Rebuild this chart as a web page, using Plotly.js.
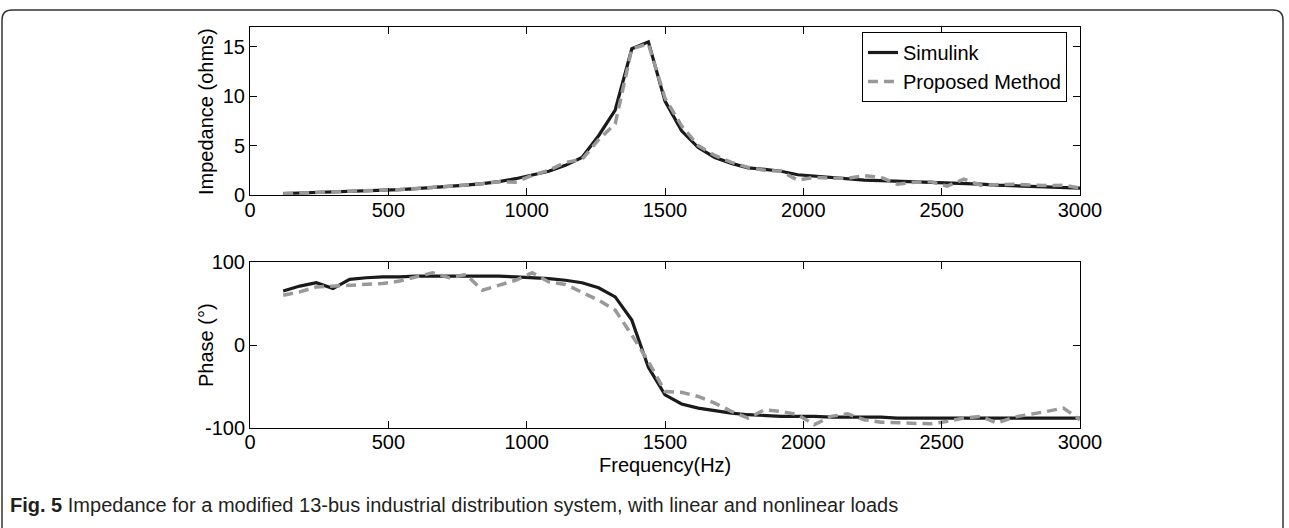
<!DOCTYPE html>
<html>
<head>
<meta charset="utf-8">
<script src="https://cdn.plot.ly/plotly-3.0.1.min.js"></script>
<style>html,body{margin:0;padding:0;background:#fff;}#chart{width:1289px;height:528px;}</style>
</head>
<body>
<div id="chart"></div>
<script>
// Frequencies (Hz), 60 Hz steps
const freq = [120,180,240,300,360,420,480,540,600,660,720,780,840,900,960,1020,1080,1140,1200,1260,1320,1380,1440,1500,1560,1620,1680,1740,1800,1860,1920,1980,2040,2100,2160,2220,2280,2340,2400,2460,2520,2580,2640,2700,2760,2820,2880,2940,3000];

// Impedance magnitude (ohms)
const zSimulink = [0.15,0.2,0.25,0.3,0.35,0.4,0.5,0.55,0.65,0.75,0.85,1.0,1.15,1.35,1.65,2.0,2.4,3.0,3.8,6.0,8.6,14.8,15.5,9.5,6.5,4.8,3.8,3.2,2.75,2.6,2.4,2.05,1.9,1.75,1.65,1.5,1.45,1.4,1.3,1.25,1.2,1.15,1.1,1.0,0.95,0.9,0.85,0.8,0.7];
const zProposed = [0.15,0.2,0.25,0.3,0.35,0.4,0.5,0.55,0.65,0.75,0.85,1.0,1.15,1.35,1.3,2.0,2.5,3.3,3.6,5.6,7.2,14.8,15.3,9.8,7.0,5.0,4.0,3.3,2.8,2.5,2.4,1.5,1.8,1.7,1.7,1.95,1.8,1.1,1.3,1.35,0.9,1.6,1.0,1.05,1.1,1.0,0.95,1.0,0.7];

// Phase (degrees)
const phSimulink = [65,71,75,68,79,81,82,82,83,83,83,83,83,83,82,81,80,78,75,69,58,30,-27,-60,-71,-76,-79,-82,-84,-85,-86,-86,-86,-87,-87,-87,-87,-88,-88,-88,-88,-88,-88,-88,-88,-88,-88,-88,-88];
const phProposed = [60,64,70,71,71,72,74,77,82,87,81,85,66,72,78,87,76,73,63,54,42,12,-20,-56,-57,-62,-70,-80,-88,-78,-80,-84,-96,-86,-83,-90,-93,-94,-95,-95,-92,-88,-86,-94,-87,-84,-80,-76,-90];

const xTicks = [0,500,1000,1500,2000,2500,3000];
const zTicks = [0,5,10,15];
const phTicks = [-100,0,100];
const phTickText = ['-100','0','100'];

const W = 1289, H = 528;
const px = v => v / W;
const py = v => 1 - v / H;

const solid = {color:'#1a1a1a', width:3.2};
const dashed = {color:'#999999', width:3.5, dash:'10px,6px'};

const traces = [
  {x:freq, y:zSimulink, type:'scatter', mode:'lines', name:'Simulink', line:solid, xaxis:'x', yaxis:'y'},
  {x:freq, y:zProposed, type:'scatter', mode:'lines', name:'Proposed Method', line:dashed, xaxis:'x', yaxis:'y'},
  {x:freq, y:phSimulink, type:'scatter', mode:'lines', name:'Simulink', line:solid, xaxis:'x2', yaxis:'y2', showlegend:false},
  {x:freq, y:phProposed, type:'scatter', mode:'lines', name:'Proposed Method', line:dashed, xaxis:'x2', yaxis:'y2', showlegend:false}
];

const fontFam = 'Liberation Sans, Arial, Helvetica, sans-serif';
const tfont = {family:fontFam, size:20, color:'#000'};
const axBase = {
  showline:true, linecolor:'#000', linewidth:1, mirror:'ticks',
  ticks:'inside', ticklen:7, tickcolor:'#000', tickwidth:1,
  showgrid:false, zeroline:false,
  tickfont:tfont
};

const layout = {
  width:W, height:H,
  margin:{l:0,r:0,t:0,b:0},
  paper_bgcolor:'#fff', plot_bgcolor:'#fff',
  font:tfont,
  showlegend:true,
  legend:{x:px(862), y:py(32), xanchor:'left', yanchor:'top',
          bordercolor:'#000', borderwidth:1, bgcolor:'#fff',
          font:{family:fontFam, size:20, color:'#000'}, tracegroupgap:0},
  xaxis:Object.assign({}, axBase, {domain:[px(250), px(1080)], range:[0,3000], tickvals:xTicks, anchor:'y', ticklabelstandoff:-3}),
  yaxis:Object.assign({}, axBase, {domain:[py(195), py(27)], range:[0,17], tickvals:zTicks, anchor:'x'}),
  xaxis2:Object.assign({}, axBase, {domain:[px(250), px(1080)], range:[0,3000], tickvals:xTicks, anchor:'y2', ticklabelstandoff:-4}),
  yaxis2:Object.assign({}, axBase, {domain:[py(428), py(262)], range:[-100,100], tickvals:phTicks, ticktext:phTickText, anchor:'x2'}),
  shapes:[{
    type:'path', xref:'paper', yref:'paper',
    path:'M '+px(2)+' -0.1 L '+px(2)+' '+py(20)+' Q '+px(2)+' '+py(10)+' '+px(12)+' '+py(10)+
         ' L '+px(1273)+' '+py(10)+' Q '+px(1283)+' '+py(10)+' '+px(1283)+' '+py(20)+' L '+px(1283)+' -0.1',
    line:{color:'#333', width:1.5}
  }],
  annotations:[
    {xref:'paper', yref:'paper', x:px(206), y:py(111), xanchor:'center', yanchor:'middle', showarrow:false,
     textangle:-90, text:'Impedance (ohms)', font:tfont},
    {xref:'paper', yref:'paper', x:px(206), y:py(345), xanchor:'center', yanchor:'middle', showarrow:false,
     textangle:-90, text:'Phase (°)', font:tfont},
    {xref:'paper', yref:'paper', x:px(665), y:py(465), xanchor:'center', yanchor:'middle', showarrow:false,
     text:'Frequency(Hz)', font:tfont},
    {xref:'paper', yref:'paper', x:px(8), y:py(505), xanchor:'left', yanchor:'middle', showarrow:false,
     text:'<b>Fig. 5</b> Impedance for a modified 13-bus industrial distribution system, with linear and nonlinear loads',
     font:{family:'Liberation Sans Narrow, Arial Narrow, sans-serif', size:20, color:'#231f20'}}
  ]
};

Plotly.newPlot('chart', traces, layout, {displayModeBar:false, staticPlot:true});
</script>
</body>
</html>
